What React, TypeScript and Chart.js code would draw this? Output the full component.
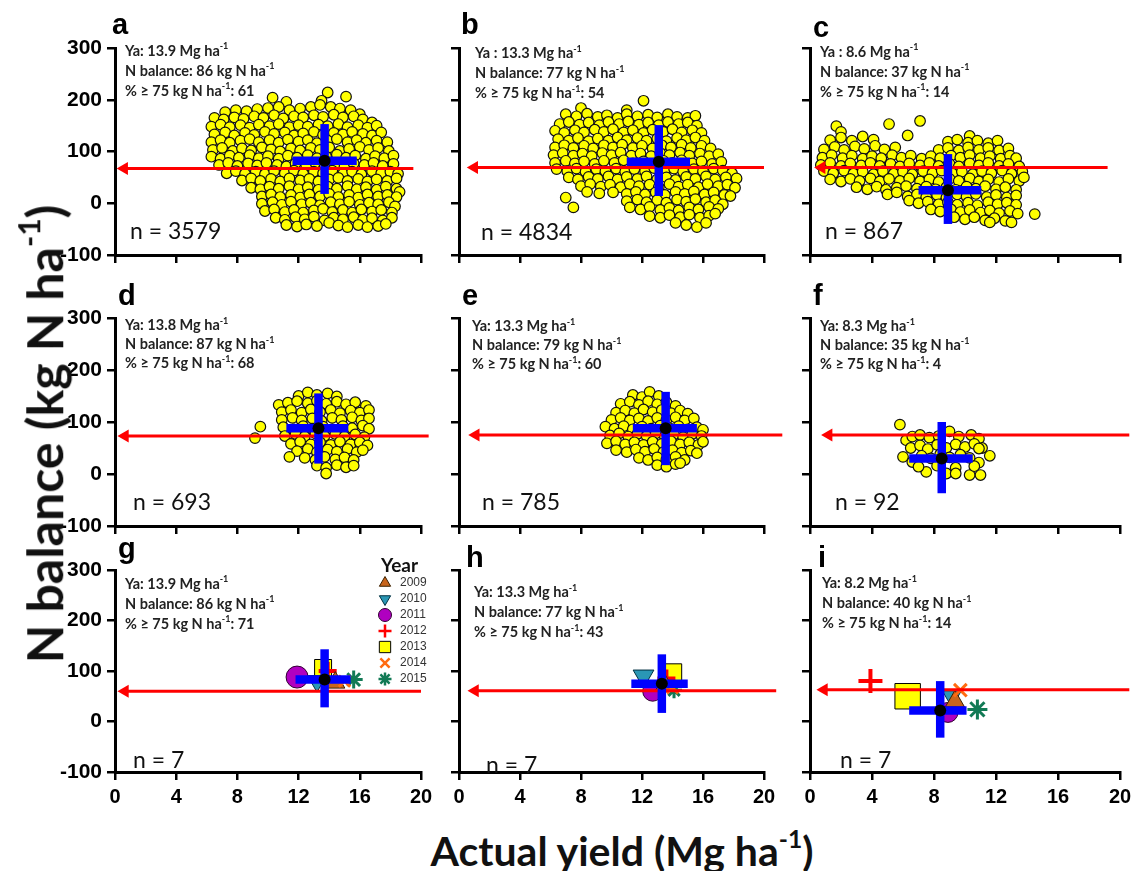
import React, { useEffect, useRef } from 'react';
import { Chart, registerables } from 'chart.js';
import { drawPoint } from 'chart.js/helpers';
Chart.register(...registerables);

// ---------------- data ----------------
const xTicks = [0, 4, 8, 12, 16, 20];
const yTicks = [-100, 0, 100, 200, 300];
const panelLetters = ['a', 'b', 'c', 'd', 'e', 'f', 'g', 'h', 'i'];
const yaPrefix = ['Ya: ', 'Ya : ', 'Ya : ', 'Ya: ', 'Ya: ', 'Ya: ', 'Ya: ', 'Ya: ', 'Ya: '];
const yaValues = [13.9, 13.3, 8.6, 13.8, 13.3, 8.3, 13.9, 13.3, 8.2];
const nBalance = [86, 77, 37, 87, 79, 35, 86, 77, 40];
const pctAbove75 = [61, 54, 14, 68, 60, 4, 71, 43, 14];
const nCounts = [3579, 4834, 867, 693, 785, 92, 7, 7, 7];
const meanYield = [13.7, 13.1, 8.9, 13.3, 13.55, 8.5, 13.7, 13.3, 8.4];
const meanNBal = [82, 80, 25, 88, 88, 30, 83, 75, 22];
const yieldLow = [11.6, 11.0, 7.0, 11.2, 11.4, 6.4, 11.8, 11.3, 6.4];
const yieldHigh = [15.8, 15.15, 11.05, 15.25, 15.6, 10.5, 15.4, 15.0, 10.1];
const nBalLow = [18, 14, -40, 20, 17, -37, 28, 17, -32];
const nBalHigh = [153, 151, 95, 155, 158, 100, 143, 133, 80];
const arrowY = [67, 69, 69, 73, 75, 75, 60, 61, 63];
const arrowHeadX = [0.6, 1.0, 0.75, 0.65, 1.1, 1.2, 0.65, 1.05, 0.9];
const arrowEndX = [19.5, 20, 19.2, 20.5, 21.2, 20.6, 20, 20.8, 20.6];

const years = ['2009', '2010', '2011', '2012', '2013', '2014', '2015'];
const gYield = [14.4, 13.2, 11.9, 13.9, 13.6, 15.0, 15.6];
const gNBal = [77, 80, 88, 100, 106, 80, 83];
const hYield = [13.5, 12.1, 12.7, 13.6, 14.0, 14.0, 14.1];
const hNBal = [72, 90, 60, 85, 96, 67, 62];
const iYield = [9.35, 9.15, 8.9, 3.9, 6.3, 9.7, 10.8];
const iNBal = [40, 50, 18, 80, 50, 62, 24];

// site-year points (yield, N balance) pairs
const cloudA = [
  10.3,204, 13.9,214, 15.1,206, 13.5,198, 11.2,196,
  7.2,176, 7.9,180, 8.6,178, 9.3,182, 10.0,184, 10.7,186, 11.4,180, 12.1,183, 12.8,186, 13.4,190, 14.1,186, 14.7,183, 15.4,180, 16.0,172,
  6.5,165, 7.1,162, 7.8,166, 8.4,163, 9.1,168, 9.7,165, 10.4,170, 11.0,164, 11.7,168, 12.3,166, 13.0,170, 13.6,167, 14.3,171, 14.9,166, 15.6,168, 16.2,162, 16.8,156,
  6.3,148, 6.9,152, 7.5,147, 8.2,151, 8.8,146, 9.4,152, 10.1,149, 10.7,153, 11.4,147, 12.0,151, 12.6,148, 13.3,152, 13.9,149, 14.6,153, 15.2,147, 15.9,151, 16.5,146, 17.1,150,
  6.5,133, 7.2,137, 7.8,131, 8.5,136, 9.1,132, 9.8,138, 10.4,134, 11.1,137, 11.7,131, 12.3,135, 13.0,138, 13.6,132, 14.3,136, 14.9,133, 15.5,138, 16.2,134, 16.8,131, 17.4,137,
  6.3,118, 6.9,122, 7.5,117, 8.2,121, 8.8,124, 9.4,118, 10.1,122, 10.7,117, 11.3,123, 12.0,119, 12.6,122, 13.2,116, 13.9,121, 14.5,124, 15.2,118, 15.8,122, 16.4,117, 17.1,121, 17.8,118,
  6.4,103, 7.0,107, 7.7,101, 8.3,106, 8.9,102, 9.6,108, 10.2,104, 10.8,100, 11.5,106, 12.1,102, 12.8,107, 13.4,103, 14.0,108, 14.7,101, 15.3,105, 16.0,109, 16.6,103, 17.2,107, 17.9,101,
  6.3,90, 6.9,86, 7.5,92, 8.1,88, 8.8,93, 9.4,87, 10.0,91, 10.7,86, 11.3,92, 11.9,88, 12.6,93, 13.2,87, 13.8,90, 14.5,94, 15.1,88, 15.7,92, 16.4,86, 17.0,91, 17.6,87, 18.2,92,
  6.8,74, 7.4,78, 8.0,72, 8.7,77, 9.3,73, 9.9,78, 10.6,74, 11.2,71, 11.8,77, 12.5,73, 13.1,78, 13.7,72, 14.4,76, 15.0,71, 15.6,77, 16.3,74, 16.9,78, 17.5,72, 18.2,76,
  7.3,58, 7.9,62, 8.5,57, 9.2,61, 9.8,56, 10.4,62, 11.1,58, 11.7,63, 12.3,57, 13.0,61, 13.6,58, 14.2,63, 14.9,57, 15.5,61, 16.1,56, 16.8,62, 17.4,58, 18.0,61, 18.5,57,
  8.3,44, 8.9,48, 9.5,43, 10.2,47, 10.8,42, 11.4,48, 12.1,44, 12.7,47, 13.3,42, 14.0,46, 14.6,49, 15.2,43, 15.9,47, 16.5,42, 17.1,46, 17.8,43, 18.4,48,
  8.9,30, 9.5,27, 10.1,32, 10.7,28, 11.4,33, 12.0,27, 12.6,31, 13.3,26, 13.9,32, 14.5,28, 15.2,33, 15.8,27, 16.4,31, 17.1,26, 17.7,32, 18.4,28, 18.6,22,
  9.6,13, 10.2,17, 10.8,12, 11.5,16, 12.1,11, 12.7,17, 13.4,13, 14.0,18, 14.6,12, 15.3,16, 15.9,11, 16.5,17, 17.2,13, 17.8,16, 18.4,12,
  9.6,-1, 10.3,2, 10.9,-3, 11.5,3, 12.2,-2, 12.8,1, 13.4,-4, 14.1,2, 14.7,-2, 15.3,3, 16.0,-3, 16.6,1, 17.2,-2, 17.9,2, 18.3,-6,
  9.8,-15, 10.4,-12, 11.1,-17, 11.7,-13, 12.3,-18, 13.0,-14, 13.6,-11, 14.2,-17, 14.9,-13, 15.5,-18, 16.1,-12, 16.8,-16, 17.4,-13, 18.1,-18,
  10.5,-28, 11.1,-32, 11.8,-27, 12.4,-31, 13.0,-26, 13.7,-33, 14.3,-28, 14.9,-31, 15.6,-27, 16.2,-32, 16.8,-29, 17.5,-33, 18.1,-28,
  11.2,-42, 11.9,-45, 12.5,-41, 13.2,-44, 14.0,-38, 14.6,-43, 15.2,-46, 15.9,-42, 16.5,-46, 17.2,-44, 17.7,-40,
];
const cloudB = [
  12.1,198, 8.0,184, 11.0,180,
  7.0,172, 7.7,168, 8.4,173, 9.1,167, 9.7,170, 10.4,165, 11.0,172, 11.7,168, 12.4,171, 13.0,166, 13.7,172, 14.3,167, 15.0,165, 15.5,169,
  6.6,153, 7.2,157, 7.9,152, 8.5,156, 9.2,151, 9.8,157, 10.5,153, 11.1,158, 11.8,152, 12.4,156, 13.1,151, 13.7,157, 14.4,153, 15.0,156, 15.6,150,
  6.3,140, 6.9,136, 7.6,141, 8.2,137, 8.9,142, 9.5,138, 10.1,143, 10.8,137, 11.4,141, 12.1,136, 12.7,142, 13.4,138, 14.0,143, 14.6,137, 15.3,141, 15.9,136,
  6.5,124, 7.2,121, 7.8,126, 8.5,120, 9.1,125, 9.8,121, 10.4,127, 11.0,122, 11.7,126, 12.3,121, 13.0,125, 13.6,120, 14.3,126, 14.9,122, 15.5,127, 16.1,121,
  6.3,108, 6.9,112, 7.5,107, 8.2,111, 8.8,106, 9.5,112, 10.1,108, 10.7,113, 11.4,107, 12.0,111, 12.7,106, 13.3,112, 13.9,108, 14.6,113, 15.2,107, 15.9,111, 16.5,106,
  6.2,93, 6.8,97, 7.5,92, 8.1,96, 8.7,91, 9.4,97, 10.0,93, 10.6,98, 11.3,92, 11.9,96, 12.6,91, 13.2,97, 13.8,93, 14.5,98, 15.1,92, 15.8,96, 16.4,91, 17.0,95,
  6.3,78, 7.0,82, 7.6,77, 8.2,81, 8.9,76, 9.5,82, 10.2,78, 10.8,83, 11.4,77, 12.1,81, 12.7,76, 13.4,82, 14.0,78, 14.6,83, 15.3,77, 15.9,81, 16.6,76, 17.2,80,
  6.4,66, 7.1,62, 7.7,67, 8.3,61, 9.0,66, 9.6,62, 10.3,67, 10.9,61, 11.5,66, 12.2,62, 12.8,68, 13.5,63, 14.1,67, 14.7,61, 15.4,66, 16.0,62, 16.7,67, 17.3,63, 17.9,58,
  7.2,50, 7.8,46, 8.5,51, 9.1,47, 9.8,52, 10.4,46, 11.0,51, 11.7,47, 12.3,52, 13.0,46, 13.6,50, 14.2,45, 14.9,51, 15.5,47, 16.2,52, 16.8,46, 17.5,50, 18.2,48,
  8.0,33, 8.6,37, 9.3,32, 9.9,36, 10.6,31, 11.2,37, 11.8,33, 12.5,36, 13.1,31, 13.8,37, 14.4,32, 15.0,36, 15.7,31, 16.3,37, 17.0,33, 17.6,36, 18.1,30,
  8.4,22, 9.2,19, 10.1,21, 11.0,18, 11.6,22, 12.2,17, 12.9,21, 13.5,16, 14.2,22, 14.8,18, 15.4,23, 16.1,17, 16.7,21, 17.4,16, 17.8,14,
  7.0,11, 11.0,4, 11.7,7, 12.3,2, 13.0,6, 13.6,1, 14.3,7, 14.9,3, 15.5,8, 16.2,2, 16.8,6, 17.3,-2,
  7.5,-8, 11.2,-8, 11.9,-12, 12.5,-7, 13.2,-13, 13.8,-9, 14.4,-14, 15.1,-8, 15.7,-12, 16.4,-7, 17.0,-11,
  12.5,-25, 13.2,-28, 13.8,-23, 14.5,-27, 15.1,-22, 15.8,-28, 16.4,-24, 16.8,-20,
  14.2,-38, 14.9,-42, 15.6,-46, 16.2,-38,
];
const cloudC = [
  1.7,149, 5.1,153, 7.1,159, 6.3,131, 10.3,130, 2.0,138,
  1.3,122, 2.0,127, 2.7,121, 3.4,129, 4.1,123, 8.9,119, 9.5,123, 10.2,117, 10.8,121, 11.5,116, 12.1,121,
  0.9,104, 1.6,109, 2.2,103, 2.9,110, 3.5,105, 4.2,111, 4.8,104, 5.5,108, 8.3,103, 8.9,107, 9.6,102, 10.2,108, 10.9,103, 11.5,107, 12.2,102, 12.8,106,
  0.8,88, 1.4,93, 2.1,87, 2.7,92, 3.4,86, 4.0,91, 4.6,87, 5.3,93, 5.9,88, 6.5,92, 7.2,86, 7.8,91, 8.4,87, 9.1,92, 9.7,88, 10.3,93, 11.0,87, 11.6,91, 12.3,86, 12.9,92, 13.3,87,
  0.7,74, 1.3,78, 2.0,72, 2.6,77, 3.3,73, 3.9,78, 4.5,72, 5.2,76, 5.8,71, 6.4,77, 7.1,73, 7.7,78, 8.3,72, 9.0,76, 9.6,71, 10.3,77, 10.9,73, 11.5,78, 12.2,72, 12.8,76, 13.5,71,
  0.9,62, 1.5,58, 2.2,63, 2.8,57, 3.4,61, 4.1,56, 4.7,62, 5.4,57, 6.0,61, 6.6,56, 7.3,62, 7.9,58, 8.5,63, 9.2,57, 9.8,61, 10.5,56, 11.1,62, 11.7,58, 12.4,63, 13.0,57, 13.7,61,
  1.3,46, 2.0,42, 2.6,47, 3.2,43, 3.9,48, 4.5,42, 5.1,47, 5.8,43, 6.4,48, 7.1,42, 7.7,46, 8.3,41, 9.0,47, 9.6,43, 10.3,48, 10.9,42, 11.5,46, 12.2,41, 12.8,47, 13.5,43, 13.8,50,
  3.0,31, 3.7,27, 4.3,32, 4.9,26, 5.6,30, 6.2,33, 6.9,28, 7.5,32, 8.1,27, 8.8,31, 9.4,26, 10.1,32, 10.7,28, 11.3,33, 12.0,27, 12.6,31, 13.3,26,
  5.0,17, 5.6,21, 6.3,13, 6.9,17, 7.5,12, 8.2,16, 8.8,11, 9.5,17, 10.1,13, 10.7,18, 11.4,12, 12.0,16, 12.7,11, 13.3,15,
  6.4,5, 7.0,0, 7.6,3, 8.3,-2, 8.9,2, 9.5,-3, 10.2,1, 10.8,-4, 11.5,2, 12.1,-2, 12.7,1, 13.3,-3,
  7.8,-12, 8.4,-16, 9.1,-12, 9.7,-17, 10.3,-13, 11.0,-18, 11.6,-14, 12.2,-19, 12.9,-15, 13.4,-20, 14.5,-21,
  9.3,-27, 10.0,-31, 10.6,-27, 11.3,-33, 11.9,-29, 12.6,-34, 13.0,-37, 11.6,-37,
];
const cloudD = [
  12.0,150, 12.6,157, 13.2,152, 13.9,155, 14.5,149,
  10.7,133, 11.3,137, 11.9,140, 12.6,136, 13.2,141, 13.8,135, 14.5,139, 15.1,134, 15.7,138, 16.4,131,
  10.9,119, 11.5,123, 12.2,118, 12.8,124, 13.4,119, 14.1,123, 14.7,117, 15.4,122, 16.0,118, 16.6,123,
  10.9,104, 11.6,108, 12.2,103, 12.9,107, 13.5,102, 14.2,108, 14.8,104, 15.5,109, 16.1,103, 16.6,107,
  11.0,90, 11.7,86, 12.3,92, 12.9,87, 13.6,91, 14.2,86, 14.9,92, 15.5,88, 16.2,93, 16.6,87,
  11.1,73, 11.8,77, 12.4,72, 13.1,78, 13.7,73, 14.4,77, 15.0,72, 15.7,76, 16.3,71,
  11.5,58, 12.1,62, 12.8,57, 13.4,61, 14.1,56, 14.7,62, 15.4,57, 16.0,61, 16.5,55,
  11.9,44, 12.6,48, 13.2,42, 13.9,47, 14.5,43, 15.2,48, 15.8,42, 16.2,46,
  12.4,31, 13.1,27, 13.7,33, 14.4,28, 15.0,32, 15.6,27,
  13.2,16, 13.8,12, 14.5,17, 15.1,13, 15.6,16,
  9.5,91, 9.15,69, 11.4,33, 13.8,1,
];
const cloudE = [
  11.4,152, 12.0,148, 12.5,158, 13.1,150,
  10.6,135, 11.2,139, 11.8,133, 12.4,140, 13.0,134, 13.6,138, 14.2,131,
  10.3,118, 10.9,122, 11.5,117, 12.1,124, 12.7,119, 13.3,123, 13.9,117, 14.5,122, 15.0,116,
  10.0,104, 10.6,108, 11.2,103, 11.8,107, 12.4,102, 13.0,108, 13.6,104, 14.2,109, 14.8,103, 15.4,107,
  9.6,91, 10.2,87, 10.8,92, 11.4,86, 12.0,91, 12.6,87, 13.2,93, 13.8,88, 14.4,92, 15.0,86, 15.6,90, 16.0,85,
  9.9,74, 10.5,78, 11.1,72, 11.7,77, 12.3,73, 12.9,78, 13.5,72, 14.1,76, 14.7,71, 15.3,77, 15.9,73,
  9.7,59, 10.3,63, 10.9,57, 11.5,61, 12.1,56, 12.7,62, 13.3,58, 13.9,63, 14.5,57, 15.1,61, 15.7,56, 16.0,62,
  10.3,46, 11.0,42, 11.6,47, 12.2,43, 12.8,48, 13.4,42, 14.0,46, 14.6,41, 15.2,45, 15.6,40,
  11.8,31, 12.4,27, 13.0,32, 13.6,28, 14.2,33, 14.8,27,
  13.0,17, 13.6,14, 14.2,19, 14.5,21,
];
const cloudF = [
  5.8,95, 6.2,65, 6.6,72, 7.1,75, 7.7,70, 8.3,73, 9.0,82, 9.6,72, 10.4,75, 10.9,68,
  6.0,33, 6.5,50, 7.1,55, 7.6,48, 8.2,56, 8.8,50, 9.4,57, 10.0,52, 10.6,58, 11.1,50,
  6.6,23, 7.2,35, 7.8,30, 8.4,38, 9.0,32, 9.7,37, 10.3,31, 10.9,49, 11.6,35, 10.9,22,
  7.5,4, 8.2,16, 8.8,1, 9.4,12, 9.4,1, 10.3,-2, 11.0,-2, 10.6,15, 7.0,14,
];

// ---------------- layout ----------------
const COLS = [[115, 421], [459, 764], [810, 1120]];
const ROWS = [[48, 255], [318, 526], [570, 772]];
const PADL = 70, PADT = 45, PADR = 30, PADB = 40;

const LETTER_OFF = [[-3, -14], [2, -14], [3, -11], [3, -13], [3, -13], [3, -13], [3, -12], [7, -3], [8, -3]];
const TEXT_OFF = [[10, 7.5], [16, 10], [10, 8.5], [10, 12], [13, 13], [10, 13], [10, 18.5], [15, 27], [12, 18]];
const N_OFF = [[15, -16], [22, -15], [15, -16], [18, -16], [23, -16], [25, -16], [18, -4], [27, 1], [30, -4]];

const SANS = 'Lato, "Open Sans", sans-serif';
const ARIAL = 'Arial, "Liberation Sans", sans-serif';

const yearStyle = [
  { pointStyle: 'triangle', rotation: 0, bg: '#c8651c', border: '#3a2000', bw: 1 },
  { pointStyle: 'triangle', rotation: 180, bg: '#2a97b5', border: '#003040', bw: 1 },
  { pointStyle: 'circle', rotation: 0, bg: '#b000c0', border: '#300030', bw: 1 },
  { pointStyle: 'cross', rotation: 0, bg: '#ff0000', border: '#ff0000', bw: 4 },
  { pointStyle: 'rect', rotation: 0, bg: '#ffff00', border: '#000000', bw: 1 },
  { pointStyle: 'crossRot', rotation: 0, bg: '#ff6a10', border: '#ff6a10', bw: 3 },
  { pointStyle: 'star', rotation: 0, bg: '#127a55', border: '#127a55', bw: 3 },
];
const yearRadiusByPanel: Record<number, number[]> = {
  6: [11, 11, 11, 9, 12, 8, 9],
  7: [11, 12, 10, 9, 13, 8, 8],
  8: [11, 11, 10, 12, 18, 9, 10],
};
const yearDrawOrder = [4, 5, 6, 7, 9, 3, 8]; // larger = drawn lower

type Part = { t: string; sup?: boolean };
function drawRich(ctx: CanvasRenderingContext2D, parts: Part[], x: number, y: number, size: number, weight: string) {
  let cx = x;
  for (const p of parts) {
    if (p.sup) {
      const s = Math.round(size * 0.62);
      ctx.font = `${weight} ${s}px ${SANS}`;
      ctx.fillText(p.t, cx, y - size * 0.42);
      cx += ctx.measureText(p.t).width;
    } else {
      ctx.font = `${weight} ${size}px ${SANS}`;
      ctx.fillText(p.t, cx, y);
      cx += ctx.measureText(p.t).width;
    }
  }
}

function toPts(flat: number[]) {
  const out: { x: number; y: number }[] = [];
  for (let i = 0; i < flat.length; i += 2) out.push({ x: flat[i], y: flat[i + 1] });
  return out;
}

const clouds: (number[] | null)[] = [cloudA, cloudB, cloudC, cloudD, cloudE, cloudF, null, null, null];
const yearData: Record<number, [number[], number[]]> = { 6: [gYield, gNBal], 7: [hYield, hNBal], 8: [iYield, iNBal] };

function Panel({ idx }: { idx: number }) {
  const ref = useRef<HTMLCanvasElement>(null);
  const col = idx % 3;
  const row = Math.floor(idx / 3);
  const [l, r] = COLS[col];
  const [t, b] = ROWS[row];
  const W = r - l + PADL + PADR;
  const H = b - t + PADT + PADB;

  useEffect(() => {
    const canvas = ref.current!;
    const datasets: any[] = [];
    datasets.push({
      type: 'scatter', order: 0, clip: false,
      data: [{ x: meanYield[idx], y: meanNBal[idx] }],
      pointRadius: 6, pointBackgroundColor: '#000', pointBorderColor: '#000', pointBorderWidth: 0,
    });
    datasets.push({
      type: 'line', order: 1, clip: false, showLine: true,
      data: [{ x: yieldLow[idx], y: meanNBal[idx] }, { x: yieldHigh[idx], y: meanNBal[idx] }],
      borderColor: '#0000ff', borderWidth: 8.5, pointRadius: 0, borderCapStyle: 'butt',
    });
    datasets.push({
      type: 'line', order: 1, clip: false, showLine: true,
      data: [{ x: meanYield[idx], y: nBalLow[idx] }, { x: meanYield[idx], y: nBalHigh[idx] }],
      borderColor: '#0000ff', borderWidth: 8.5, pointRadius: 0, borderCapStyle: 'butt',
    });
    datasets.push({
      type: 'line', order: 2, clip: false, showLine: true,
      data: [{ x: arrowEndX[idx], y: arrowY[idx] }, { x: arrowHeadX[idx], y: arrowY[idx] }],
      borderColor: '#ff0000', borderWidth: 3, borderCapStyle: 'butt',
      pointStyle: 'triangle', pointRotation: -90, pointRadius: [0, 7.5],
      pointBackgroundColor: '#ff0000', pointBorderColor: '#ff0000', pointBorderWidth: 0,
    });
    const yd = yearData[idx];
    if (yd) {
      const radii = yearRadiusByPanel[idx];
      years.forEach((yr, k) => {
        const st = yearStyle[k];
        datasets.push({
          type: 'scatter', label: yr, order: yearDrawOrder[k], clip: false,
          data: [{ x: yd[0][k], y: yd[1][k] }],
          pointStyle: st.pointStyle, pointRotation: st.rotation, pointRadius: radii[k],
          pointBackgroundColor: st.bg, pointBorderColor: st.border, pointBorderWidth: st.bw,
        });
      });
    }
    const cl = clouds[idx];
    if (cl) {
      datasets.push({
        type: 'scatter', order: 20, clip: false,
        data: toPts(cl),
        pointRadius: 5.3, pointBackgroundColor: '#ffff00', pointBorderColor: '#111', pointBorderWidth: 1.2,
      });
    }

    const showX = row === 2;
    const showY = col === 0;

    const textPlugin = {
      id: 'panelText',
      afterDraw(chart: any) {
        const ctx: CanvasRenderingContext2D = chart.ctx;
        const a = chart.chartArea;
        ctx.save();
        ctx.fillStyle = '#000';
        ctx.textAlign = 'left';
        ctx.textBaseline = 'alphabetic';
        ctx.font = `bold 29px ${ARIAL}`;
        ctx.fillText(panelLetters[idx], a.left + LETTER_OFF[idx][0], a.top + LETTER_OFF[idx][1]);
        const tx = a.left + TEXT_OFF[idx][0];
        const ty = a.top + TEXT_OFF[idx][1];
        const lh = row === 1 ? 19 : 20;
        ctx.fillStyle = '#222';
        drawRich(ctx, [{ t: `${yaPrefix[idx]}${yaValues[idx]} Mg ha` }, { t: '-1', sup: true }], tx, ty, 14.5, 'bold');
        drawRich(ctx, [{ t: `N balance: ${nBalance[idx]} kg N ha` }, { t: '-1', sup: true }], tx, ty + lh, 14.5, 'bold');
        drawRich(ctx, [{ t: '% ≥ 75 kg N ha' }, { t: '-1', sup: true }, { t: `: ${pctAbove75[idx]}` }], tx, ty + 2 * lh, 14.5, 'bold');
        ctx.fillStyle = '#111';
        ctx.font = `23px ${SANS}`;
        ctx.fillText(`n = ${nCounts[idx]}`, a.left + N_OFF[idx][0], a.bottom + N_OFF[idx][1]);
        if (idx === 6) {
          ctx.fillStyle = '#111';
          ctx.font = `bold 19px ${SANS}`;
          ctx.fillText('Year', a.left + 266, a.top + 2);
          years.forEach((yr, k) => {
            const st = yearStyle[k];
            const cy = a.top + 13 + 16 * k;
            const cx = a.left + 270;
            ctx.save();
            ctx.fillStyle = st.bg;
            ctx.strokeStyle = st.border;
            ctx.lineWidth = st.pointStyle === 'cross' || st.pointStyle === 'crossRot' || st.pointStyle === 'star' ? 2.5 : 1;
            drawPoint(ctx, { pointStyle: st.pointStyle as any, rotation: st.rotation, radius: st.pointStyle === 'rect' ? 8 : 6.5, borderWidth: 1 }, cx, cy);
            ctx.restore();
            ctx.fillStyle = '#333';
            ctx.font = `12px ${ARIAL}`;
            ctx.textBaseline = 'middle';
            ctx.fillText(yr, a.left + 285, cy);
            ctx.textBaseline = 'alphabetic';
          });
        }
        ctx.restore();
      },
    };

    const chart = new Chart(canvas, {
      type: 'scatter',
      data: { datasets },
      options: {
        animation: false,
        responsive: false,
        events: [],
        layout: { padding: { left: 0, top: PADT, right: PADR, bottom: 0 } },
        plugins: { legend: { display: false }, tooltip: { enabled: false } },
        scales: {
          x: {
            type: 'linear', min: 0, max: 20,
            afterBuildTicks: (s: any) => { s.ticks = xTicks.map((v) => ({ value: v })); },
            afterFit: (s: any) => { s.height = PADB; },
            ticks: { color: showX ? '#000' : 'rgba(0,0,0,0)', font: { family: ARIAL, size: 20, weight: 'bold' }, padding: 5, maxRotation: 0, autoSkip: false },
            grid: { drawOnChartArea: false, drawTicks: true, tickLength: 8, color: '#000', lineWidth: 2.5 },
            border: { display: true, color: '#000', width: 3 },
          },
          y: {
            type: 'linear', min: -100, max: 300,
            afterBuildTicks: (s: any) => { s.ticks = yTicks.map((v) => ({ value: v })); },
            afterFit: (s: any) => { s.width = PADL; },
            ticks: { color: showY ? '#000' : 'rgba(0,0,0,0)', font: { family: ARIAL, size: 21, weight: 'bold' }, padding: 5, autoSkip: false },
            grid: { drawOnChartArea: false, drawTicks: true, tickLength: 8, color: '#000', lineWidth: 2.5 },
            border: { display: true, color: '#000', width: 3 },
          },
        },
      } as any,
      plugins: [textPlugin],
    });
    return () => chart.destroy();
  }, []);

  return (
    <canvas
      ref={ref}
      width={W}
      height={H}
      style={{ position: 'absolute', left: l - PADL, top: t - PADT, width: W, height: H }}
    />
  );
}

export default function App() {
  return (
    <div style={{ position: 'absolute', left: 0, top: 0, width: 1132, height: 871, background: '#fff', overflow: 'hidden' }}>
      {panelLetters.map((_, i) => (
        <Panel key={i} idx={i} />
      ))}
      <div
        style={{
          position: 'absolute', left: 41, top: 434, transform: 'translate(-50%, -50%) rotate(-90deg)',
          whiteSpace: 'nowrap', font: `bold 50px ${SANS}`, lineHeight: 1, color: '#111',
        }}
      >
        N balance (kg N ha<span style={{ fontSize: '0.6em', verticalAlign: '0.75em' }}>-1</span>)
      </div>
      <div
        style={{
          position: 'absolute', left: 622, top: 849, transform: 'translate(-50%, -50%)',
          whiteSpace: 'nowrap', font: `bold 41px ${SANS}`, lineHeight: 1, color: '#111',
        }}
      >
        Actual yield (Mg ha<span style={{ fontSize: '0.6em', verticalAlign: '0.75em' }}>-1</span>)
      </div>
    </div>
  );
}
